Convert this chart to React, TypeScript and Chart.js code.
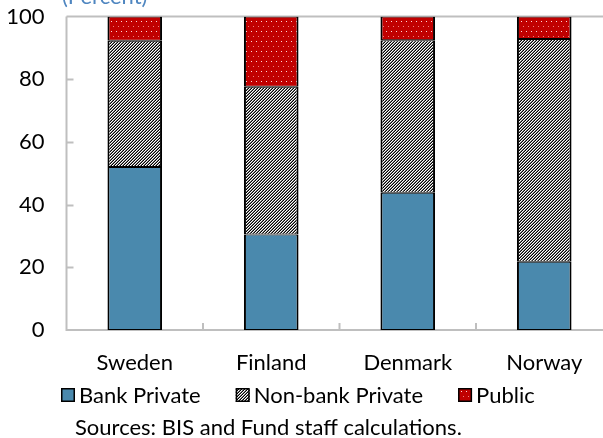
import React, { useEffect, useRef } from 'react';
import { Chart, registerables } from 'chart.js';

Chart.register(...registerables);

const categories = ['Sweden', 'Finland', 'Denmark', 'Norway'];
const bankPrivate = [52.0, 30.5, 43.8, 21.8];
const nonBankPrivate = [40.3, 47.1, 48.6, 71.0];
const publicDebt = [7.7, 22.4, 7.6, 7.2];
const seriesLabels = ['Bank Private', 'Non-bank Private', 'Public'];
const yTickValues = [0, 20, 40, 60, 80, 100];
const unitLabel = '(Percent)';
const sourceNote = 'Sources: BIS and Fund staff calculations.';

const FONT = 'Lato, "Noto Sans", sans-serif';
const BLUE = '#4A89AD';
const RED = '#C00000';
const AXIS_GRAY = '#BFBFBF';

function makeHatch(): CanvasPattern | string {
  const c = document.createElement('canvas');
  c.width = 3;
  c.height = 3;
  const x = c.getContext('2d');
  if (!x) return '#888';
  const cols = ['#000000', '#ffffff', '#7a7a7a'];
  for (let i = 0; i < 3; i++) {
    for (let j = 0; j < 3; j++) {
      x.fillStyle = cols[(i + j) % 3];
      x.fillRect(i, j, 1, 1);
    }
  }
  return x.createPattern(c, 'repeat') || '#888';
}

function makeDots(): CanvasPattern | string {
  const c = document.createElement('canvas');
  c.width = 10;
  c.height = 10;
  const x = c.getContext('2d');
  if (!x) return RED;
  x.fillStyle = RED;
  x.fillRect(0, 0, 10, 10);
  x.fillStyle = '#ffd6d6';
  x.fillRect(1, 1, 1, 1);
  x.fillRect(6, 1, 1, 1);
  x.fillStyle = '#f08080';
  x.fillRect(3, 6, 1, 1);
  x.fillRect(8, 6, 1, 1);
  return x.createPattern(c, 'repeat') || RED;
}

export default function App() {
  const ref = useRef<HTMLCanvasElement | null>(null);

  useEffect(() => {
    const canvas = ref.current;
    if (!canvas) return;
    const hatch = makeHatch();
    const dots = makeDots();
    const fills = [BLUE, hatch, dots];

    const decor = {
      id: 'decor',
      beforeDatasetsDraw(chart: any) {
        const { ctx, chartArea: a, scales } = chart;
        ctx.save();
        ctx.strokeStyle = AXIS_GRAY;
        ctx.lineWidth = 2;
        ctx.beginPath();
        ctx.moveTo(a.left, a.top);
        ctx.lineTo(a.right + 20, a.top);
        ctx.moveTo(a.left, a.top);
        ctx.lineTo(a.left, a.bottom);
        ctx.lineTo(a.right + 20, a.bottom);
        yTickValues.forEach((v) => {
          if (v === 0 || v === 100) return;
          const y = Math.round(scales.y.getPixelForValue(v)) + 0.5;
          ctx.moveTo(a.left, y);
          ctx.lineTo(a.left + 7, y);
        });
        const xs = scales.x;
        for (let i = 1; i < categories.length; i++) {
          const px = (xs.getPixelForValue(i - 1) + xs.getPixelForValue(i)) / 2;
          ctx.moveTo(px, a.bottom);
          ctx.lineTo(px, a.bottom - 7);
        }
        ctx.stroke();
        ctx.restore();
      },
      afterDraw(chart: any) {
        const { ctx } = chart;
        ctx.save();
        ctx.font = `22px ${FONT}`;
        ctx.fillStyle = '#4F86C0';
        ctx.textAlign = 'left';
        ctx.textBaseline = 'alphabetic';
        ctx.fillText(unitLabel, 62, 4);
        ctx.textBaseline = 'middle';
        let x = 61;
        const cy = 395;
        const box = 14;
        seriesLabels.forEach((lab, i) => {
          ctx.fillStyle = fills[i];
          ctx.fillRect(x, cy - box / 2, box, box);
          ctx.strokeStyle = '#000';
          ctx.lineWidth = 1.5;
          ctx.strokeRect(x + 0.75, cy - box / 2 + 0.75, box - 1.5, box - 1.5);
          ctx.fillStyle = '#000';
          ctx.fillText(lab, x + box + 4, cy + 1);
          x += box + 4 + ctx.measureText(lab).width + 35;
        });
        ctx.fillStyle = '#000';
        ctx.fillText(sourceNote, 75, 428);
        ctx.restore();
      },
    };

    const border = { top: 1, bottom: 1, left: 2, right: 2 };
    const chart = new Chart(canvas, {
      type: 'bar',
      data: {
        labels: categories,
        datasets: [
          { label: seriesLabels[0], data: bankPrivate, backgroundColor: BLUE, borderColor: '#000', borderWidth: border, borderSkipped: false },
          { label: seriesLabels[1], data: nonBankPrivate, backgroundColor: hatch as any, borderColor: '#000', borderWidth: border, borderSkipped: false },
          { label: seriesLabels[2], data: publicDebt, backgroundColor: dots as any, borderColor: '#000', borderWidth: border, borderSkipped: false },
        ],
      },
      options: {
        responsive: false,
        animation: false,
        devicePixelRatio: 1,
        layout: { padding: { top: 16.5, right: 7.5, bottom: 0, left: 0 } },
        datasets: { bar: { categoryPercentage: 1, barPercentage: 0.4 } },
        plugins: { legend: { display: false }, tooltip: { enabled: false }, title: { display: false } },
        scales: {
          x: {
            stacked: true,
            grid: { display: false, drawTicks: false },
            border: { display: false },
            ticks: { padding: 20, color: '#000', font: { family: FONT, size: 22 }, maxRotation: 0 },
            afterFit: (s: any) => { s.height = 108; s.paddingLeft = 0; s.paddingRight = 0; },
          },
          y: {
            stacked: true,
            min: 0,
            max: 100,
            grid: { display: false, drawTicks: false },
            border: { display: false },
            afterBuildTicks: (s: any) => { s.ticks = yTickValues.map((v) => ({ value: v })); },
            ticks: { padding: 22, color: '#000', font: { family: FONT, size: 22 } },
            afterFit: (s: any) => { s.width = 66.5; s.paddingTop = 0; s.paddingBottom = 0; },
          },
        },
      },
      plugins: [decor],
    });
    return () => chart.destroy();
  }, []);

  return (
    <div style={{ position: 'absolute', left: 0, top: 0, width: 603, height: 438, overflow: 'hidden', background: '#fff' }}>
      <canvas ref={ref} width={620} height={438} style={{ display: 'block', width: 620, height: 438 }} />
    </div>
  );
}
